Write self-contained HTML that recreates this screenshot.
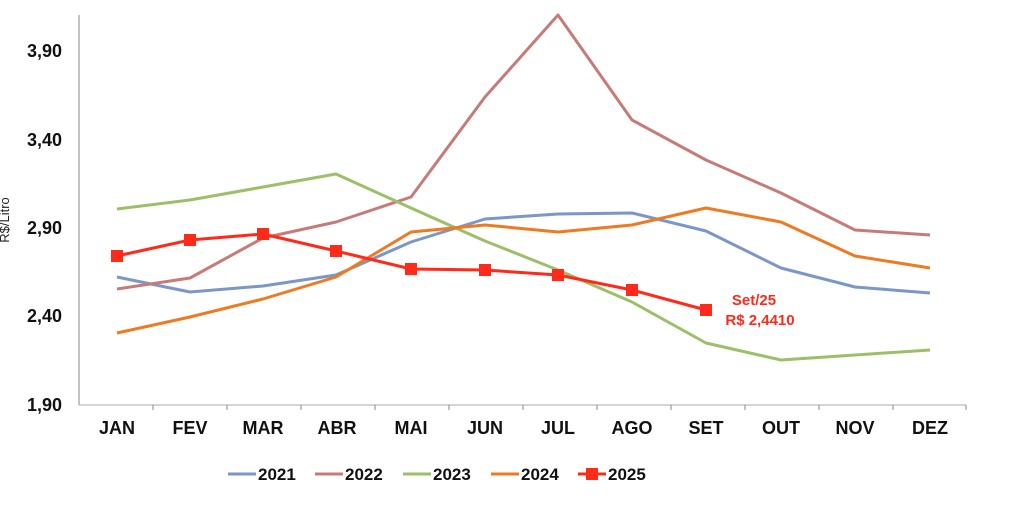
<!DOCTYPE html>
<html><head><style>body{margin:0;background:#fff}svg{display:block}text{font-family:"Liberation Sans",Arial,sans-serif}</style></head>
<body>
<svg width="1024" height="506" viewBox="0 0 1024 506">
<line x1="79" y1="15" x2="79" y2="405" stroke="#888" stroke-width="1"/>
<line x1="79" y1="405" x2="966" y2="405" stroke="#aab" stroke-width="1"/>
<g stroke="#888" stroke-width="1">
<line x1="153" y1="405" x2="153" y2="410"/><line x1="227" y1="405" x2="227" y2="410"/><line x1="301" y1="405" x2="301" y2="410"/><line x1="375" y1="405" x2="375" y2="410"/><line x1="449" y1="405" x2="449" y2="410"/><line x1="523" y1="405" x2="523" y2="410"/><line x1="597" y1="405" x2="597" y2="410"/><line x1="671" y1="405" x2="671" y2="410"/><line x1="745" y1="405" x2="745" y2="410"/><line x1="819" y1="405" x2="819" y2="410"/><line x1="893" y1="405" x2="893" y2="410"/><line x1="966" y1="405" x2="966" y2="410"/>
</g>
<g font-size="18" font-weight="bold" fill="#111" text-anchor="end">
<text x="62" y="57">3,90</text><text x="62" y="146">3,40</text><text x="62" y="234">2,90</text><text x="62" y="322">2,40</text><text x="62" y="411">1,90</text>
</g>
<text transform="translate(9,220) rotate(-90)" font-size="13" fill="#222" text-anchor="middle">R$/Litro</text>
<g font-size="18" font-weight="bold" fill="#111" text-anchor="middle">
<text x="117" y="434">JAN</text><text x="190" y="434">FEV</text><text x="263" y="434">MAR</text><text x="337" y="434">ABR</text><text x="411" y="434">MAI</text><text x="485" y="434">JUN</text><text x="558" y="434">JUL</text><text x="632" y="434">AGO</text><text x="706" y="434">SET</text><text x="781" y="434">OUT</text><text x="855" y="434">NOV</text><text x="930" y="434">DEZ</text>
</g>
<g fill="none" stroke-width="3" stroke-linejoin="round">
<polyline stroke="#7b96c8" points="117,277 190,292 263,286 336,275 411,242 485,219 558,214 632,213 706,231 781,268 855,287 930,293"/>
<polyline stroke="#c77b78" points="117,289 190,278 263,238 336,222 411,197 485,97 558,15 632,120 706,160 781,193 855,230 930,235"/>
<polyline stroke="#9dbf67" points="117,209 190,200 263,187 336,174 411,208 485,241 558,270 632,302 706,343 781,360 855,355 930,350"/>
<polyline stroke="#ee7a22" points="117,333 190,317 263,299 336,277 411,232 485,225 558,232 632,225 706,208 781,222 855,256 930,268"/>
<polyline stroke="#ff2a1a" points="117,256 190,240 263,234 336,251 411,269 485,270 558,275 632,290 706,310"/>
</g>
<g fill="#ff2a1a">
<rect x="111" y="250" width="12" height="12"/><rect x="184" y="234" width="12" height="12"/><rect x="257" y="228" width="12" height="12"/><rect x="330" y="245" width="12" height="12"/><rect x="405" y="263" width="12" height="12"/><rect x="479" y="264" width="12" height="12"/><rect x="552" y="269" width="12" height="12"/><rect x="626" y="284" width="12" height="12"/><rect x="700" y="304" width="12" height="12"/>
</g>
<g font-size="15" font-weight="bold" fill="#ff2a1a" text-anchor="middle">
<text x="754" y="305">Set/25</text><text x="760" y="325">R$ 2,4410</text>
</g>
<g stroke-width="3">
<line x1="228" y1="474" x2="256" y2="474" stroke="#7b96c8"/>
<line x1="315" y1="474" x2="343" y2="474" stroke="#c77b78"/>
<line x1="403" y1="474" x2="431" y2="474" stroke="#9dbf67"/>
<line x1="491" y1="474" x2="519" y2="474" stroke="#ee7a22"/>
<line x1="578" y1="474" x2="606" y2="474" stroke="#ff2a1a"/>
</g>
<rect x="586" y="468" width="12" height="12" fill="#ff2a1a"/>
<g font-size="17" font-weight="bold" fill="#111">
<text x="258" y="480">2021</text><text x="345" y="480">2022</text><text x="433" y="480">2023</text><text x="521" y="480">2024</text><text x="608" y="480">2025</text>
</g>
</svg>
</body></html>
